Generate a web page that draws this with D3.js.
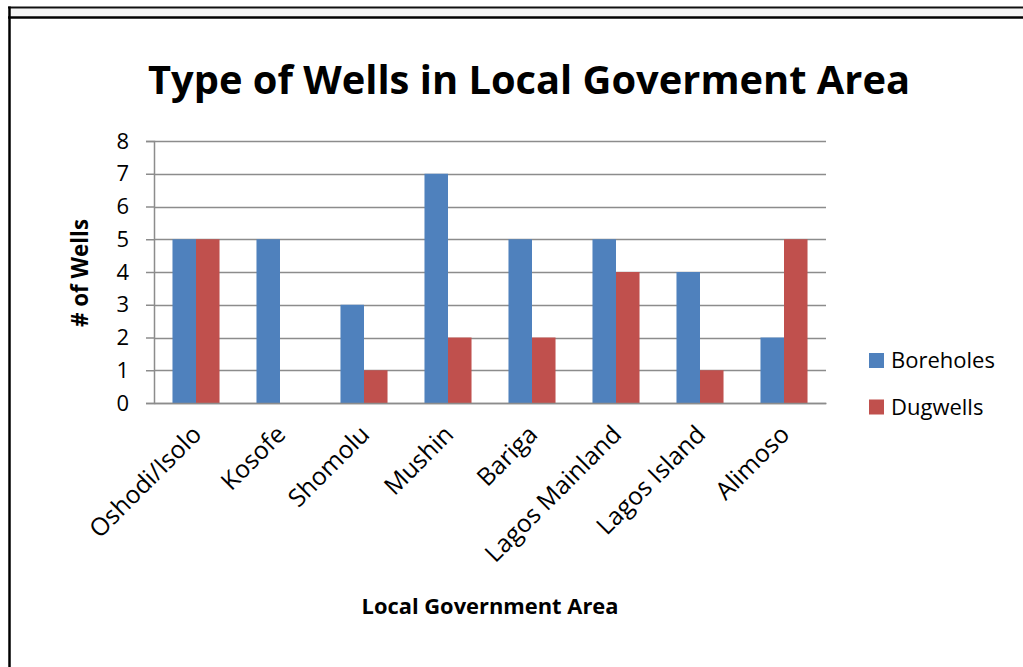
<!DOCTYPE html>
<html>
<head>
<meta charset="utf-8">
<script src="https://cdn.jsdelivr.net/npm/d3@7"></script>
<style>
  html, body { margin: 0; padding: 0; background: #fff; }
  svg { display: block; }
  text { font-family: "Open Sans", Lato, sans-serif; fill: #000; }
</style>
</head>
<body>
<svg id="chart" width="1023" height="667"></svg>
<script>
const categories = ["Oshodi/Isolo", "Kosofe", "Shomolu", "Mushin", "Bariga", "Lagos Mainland", "Lagos Island", "Alimoso"];
const seriesNames = ["Boreholes", "Dugwells"];
const boreholes = [5, 5, 3, 7, 5, 5, 4, 2];
const dugwells = [5, 0, 1, 2, 2, 4, 1, 5];
const yTicks = [0, 1, 2, 3, 4, 5, 6, 7, 8];
const colors = ["#4f81bd", "#c0504d"];
const titleText = "Type of Wells in Local Goverment Area";
const yTitle = "# of Wells";
const xTitle = "Local Government Area";

const svg = d3.select("#chart");
const W = 1023, H = 667;

function fitWidth(sel, target) {
  const node = sel.node();
  const fs = parseFloat(sel.attr("font-size"));
  const len = node.getComputedTextLength();
  if (len > 0) sel.attr("font-size", (fs * target / len).toFixed(2));
  return sel;
}

// outer frame
svg.append("rect").attr("x", 0).attr("y", 0).attr("width", W).attr("height", H).attr("fill", "#fff");
svg.append("line").attr("x1", 8).attr("x2", W).attr("y1", 7.5).attr("y2", 7.5).attr("stroke", "#111").attr("stroke-width", 2);
svg.append("rect").attr("x", 10).attr("y", 9).attr("width", W - 10).attr("height", 7).attr("fill", "#f4f4f4");
svg.append("line").attr("x1", 8).attr("x2", W).attr("y1", 17.5).attr("y2", 17.5).attr("stroke", "#000").attr("stroke-width", 2.5);
svg.append("line").attr("x1", 9.5).attr("x2", 9.5).attr("y1", 6.5).attr("y2", H).attr("stroke", "#000").attr("stroke-width", 2.5);

const plot = { left: 154, right: 826, top: 141, bottom: 403 };

const x0 = d3.scaleBand().domain(categories).range([plot.left, plot.right]).paddingInner(0.44).paddingOuter(0.22);
const x1 = d3.scaleBand().domain(seriesNames).range([0, x0.bandwidth()]);
const y = d3.scaleLinear().domain([0, 8]).range([plot.bottom, plot.top]);

// gridlines
svg.append("g")
  .selectAll("line").data(yTicks).join("line")
  .attr("x1", plot.left).attr("x2", plot.right)
  .attr("y1", d => Math.round(y(d)) + 0.5).attr("y2", d => Math.round(y(d)) + 0.5)
  .attr("stroke", "#8c8c8c").attr("stroke-width", 1.5);

// bars
const data = categories.map((c, i) => ({ c, vals: [boreholes[i], dugwells[i]] }));
const groups = svg.append("g").selectAll("g").data(data).join("g")
  .attr("transform", d => `translate(${x0(d.c)},0)`);
groups.selectAll("rect").data(d => d.vals.map((v, j) => ({ v, s: seriesNames[j], j })))
  .join("rect")
  .attr("x", d => x1(d.s))
  .attr("width", x1.bandwidth())
  .attr("y", d => y(d.v))
  .attr("height", d => y(0) - y(d.v))
  .attr("fill", d => colors[d.j]);

// y axis
const yAxis = d3.axisLeft(y).tickValues(yTicks).tickSize(8).tickPadding(17).tickFormat(d3.format("d"));
const yg = svg.append("g").attr("transform", `translate(${plot.left},0)`).call(yAxis);
yg.select(".domain").attr("stroke", "#8c8c8c").attr("stroke-width", 1.5);
yg.selectAll(".tick line").attr("stroke", "#8c8c8c").attr("stroke-width", 1.5);
yg.selectAll(".tick text").attr("font-size", 22).attr("font-family", "'Open Sans', sans-serif").attr("fill", "#000");

// x axis
const xAxis = d3.axisBottom(x0.copy().paddingInner(0).paddingOuter(0)).tickSize(0).tickPadding(0);
const xg = svg.append("g").attr("transform", `translate(0,${plot.bottom})`).call(xAxis);
xg.select(".domain").attr("stroke", "#8c8c8c").attr("stroke-width", 1.5);
const xLabels = xg.selectAll(".tick text")
  .attr("font-size", 20).attr("font-family", "'Open Sans', sans-serif").attr("fill", "#000")
  .attr("text-anchor", "end")
  .attr("dy", "0")
  .attr("transform", "translate(7,33) rotate(-45)");
// size labels so that "Oshodi/Isolo" spans ~146px like the reference
(function () {
  const first = xLabels.filter(d => d === categories[0]);
  const len = first.node().getComputedTextLength();
  xLabels.attr("font-size", (20 * 146 / len).toFixed(2));
})();

// title
fitWidth(svg.append("text").attr("x", 529).attr("y", 94).attr("text-anchor", "middle")
  .attr("font-size", 36).attr("font-weight", "bold").text(titleText), 762);

// y title
fitWidth(svg.append("text").attr("transform", "translate(88,273) rotate(-90)").attr("text-anchor", "middle")
  .attr("font-size", 20).attr("font-weight", "bold").text(yTitle), 108);

// x title
fitWidth(svg.append("text").attr("x", 490).attr("y", 614).attr("text-anchor", "middle")
  .attr("font-size", 20).attr("font-weight", "bold").text(xTitle), 257);

// legend
const leg = svg.append("g").selectAll("g").data(seriesNames).join("g")
  .attr("transform", (d, i) => `translate(869,${353 + i * 46.5})`);
leg.append("rect").attr("width", 15).attr("height", 15).attr("fill", (d, i) => colors[i]);
leg.append("text").attr("x", 22).attr("y", 15).attr("font-size", 22).text(d => d);
</script>
</body>
</html>
